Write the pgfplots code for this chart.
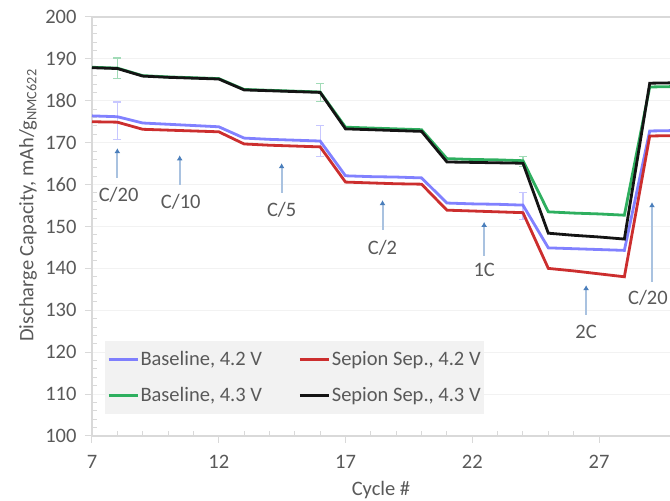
\documentclass[border=0pt]{standalone}
\usepackage{pgfplots}
\pgfplotsset{compat=1.18}
\usepackage{fontspec}
\setmainfont{Carlito}
\usetikzlibrary{arrows.meta}
\definecolor{txt}{HTML}{595959}
\definecolor{axgray}{HTML}{D9D9D9}
\definecolor{gridc}{HTML}{F2F2F2}
\definecolor{legfill}{HTML}{F2F2F2}
\definecolor{cblue}{HTML}{7373FF}
\definecolor{cred}{HTML}{CC2E2E}
\definecolor{cgreen}{HTML}{2EAF5F}
\definecolor{cblack}{HTML}{141414}
\definecolor{arrowc}{HTML}{A9C2E0}
\definecolor{arrowh}{HTML}{4A7EBB}
\newcommand{\fs}{\fontsize{20.5}{24}\selectfont}
\begin{document}
\begin{tikzpicture}
\begin{axis}[name=ax, at={(0,0)}, anchor=south west,
  scale only axis, width=578pt, height=419pt,
  xmin=7, xmax=29.8, ymin=100, ymax=200,
  xtick={7,12,17,22,27}, ytick={100,110,...,200},
  minor x tick num=4, minor y tick num=4,
  axis lines=left,
  axis line style={draw=axgray, line width=1.5pt, -},
  tick align=outside,
  major tick length=7pt, minor tick length=5pt,
  every tick/.style={draw=axgray, line width=1pt},
  minor x tick style={yshift=5pt},
  minor y tick style={xshift=5pt},
  ymajorgrids, major grid style={draw=gridc, line width=0.8pt},
  tick label style={font=\fs, text=txt},
  xticklabel style={yshift=-9pt},
  yticklabel style={xshift=-5pt},
  /pgf/number format/assume math mode=true,
  xlabel={Cycle \#},
  xlabel style={font=\fs, text=txt, at={(rel axis cs:0.5,0)}, anchor=center, yshift=-54pt},
  ylabel={Discharge Capacity, mAh/g\textsubscript{NMC622}},
  ylabel style={font=\fs, text=txt, at={([xshift=-64pt]rel axis cs:0,0.55)}, anchor=center},
  legend columns=2,
  legend cell align=left,
  legend style={at={(rel axis cs:0.0225,0.2267)}, anchor=north west,
    fill=legfill, draw=none, font=\fs, text=txt,
    inner xsep=2pt, inner ysep=9pt, row sep=17pt,
    nodes={inner sep=1.5pt},
    /tikz/every even column/.append style={column sep=35pt}},
  legend image code/.code={\draw[#1] (0pt,0pt) -- (29pt,0pt);},
  clip mode=individual,
]
% arrows and labels
\draw[arrowc, line width=2pt, -{Latex[length=5pt,width=6pt,color=arrowh]}] (axis cs:8,161.6) -- (axis cs:8,168.7);
\node[font=\fs, text=txt] at (axis cs:8.05,157.5) {C/20};
\draw[arrowc, line width=2pt, -{Latex[length=5pt,width=6pt,color=arrowh]}] (axis cs:10.46,160) -- (axis cs:10.46,167);
\node[font=\fs, text=txt] at (axis cs:10.5,155.8) {C/10};
\draw[arrowc, line width=2pt, -{Latex[length=5pt,width=6pt,color=arrowh]}] (axis cs:14.48,158) -- (axis cs:14.48,165.1);
\node[font=\fs, text=txt] at (axis cs:14.48,153.9) {C/5};
\draw[arrowc, line width=2pt, -{Latex[length=5pt,width=6pt,color=arrowh]}] (axis cs:18.46,149.2) -- (axis cs:18.46,156.3);
\node[font=\fs, text=txt] at (axis cs:18.46,144.9) {C/2};
\draw[arrowc, line width=2pt, -{Latex[length=5pt,width=6pt,color=arrowh]}] (axis cs:22.47,143) -- (axis cs:22.47,151.1);
\node[font=\fs, text=txt] at (axis cs:22.47,139.6) {1C};
\draw[arrowc, line width=2pt, -{Latex[length=5pt,width=6pt,color=arrowh]}] (axis cs:26.49,128.9) -- (axis cs:26.49,136);
\node[font=\fs, text=txt] at (axis cs:26.49,124.8) {2C};
\draw[arrowc, line width=2pt, -{Latex[length=5pt,width=6pt,color=arrowh]}] (axis cs:29.09,136.8) -- (axis cs:29.09,155.8);
\node[font=\fs, text=txt, anchor=east, inner xsep=1pt] at (axis cs:29.76,132.9) {C/20};

% error bars
\addplot[forget plot, draw=none, mark=none, error bars/.cd, y dir=both, y explicit,
  error bar style={draw=cblue!40, line width=1.2pt},
  error mark options={rotate=90, draw=cblue!40, line width=1.2pt, mark size=4pt}]
  coordinates {(8,175.2) +- (0,4.5) (16,170.4) +- (0,3.7) (24,154.9) +- (0,3.3)};
\addplot[forget plot, draw=none, mark=none, error bars/.cd, y dir=both, y explicit,
  error bar style={draw=cgreen!45, line width=1.2pt},
  error mark options={rotate=90, draw=cgreen!45, line width=1.2pt, mark size=4pt}]
  coordinates {(8,187.8) +- (0,2.4) (16,182.0) +- (0,2.2) (24,165.5) +- (0,1.2)};

% data
\addplot[cblue, line width=2.8pt, opacity=0.9] coordinates {
(7,176.4) (8,176.2) (9,174.7) (10,174.4) (11,174.1) (12,173.8) (13,171.1) (14,170.8) (15,170.6) (16,170.4)
(17,162.1) (18,161.9) (19,161.8) (20,161.6) (21,155.6) (22,155.4) (23,155.3) (24,155.1)
(25,144.9) (26,144.7) (27,144.5) (28,144.3) (29,172.8) (30,172.9)};
\addlegendentry{Baseline, 4.2 V}
\addplot[cred, line width=2.8pt] coordinates {
(7,175.0) (8,174.9) (9,173.2) (10,173.0) (11,172.8) (12,172.6) (13,169.7) (14,169.4) (15,169.2) (16,169.0)
(17,160.6) (18,160.4) (19,160.2) (20,160.1) (21,153.9) (22,153.7) (23,153.5) (24,153.3)
(25,140.0) (26,139.4) (27,138.7) (28,138.0) (29,171.6) (30,171.7)};
\addlegendentry{Sepion Sep., 4.2 V}
\addplot[cgreen, line width=2.8pt] coordinates {
(7,188.0) (8,187.8) (9,186.0) (10,185.7) (11,185.5) (12,185.3) (13,182.7) (14,182.5) (15,182.3) (16,182.1)
(17,173.7) (18,173.5) (19,173.3) (20,173.1) (21,166.2) (22,166.0) (23,165.9) (24,165.7)
(25,153.5) (26,153.2) (27,153.0) (28,152.7) (29,183.3) (30,183.4)};
\addlegendentry{Baseline, 4.3 V}
\addplot[cblack, line width=2.8pt] coordinates {
(7,187.9) (8,187.7) (9,185.9) (10,185.6) (11,185.4) (12,185.2) (13,182.6) (14,182.4) (15,182.2) (16,182.0)
(17,173.3) (18,173.1) (19,172.9) (20,172.7) (21,165.4) (22,165.3) (23,165.2) (24,165.1)
(25,148.4) (26,147.9) (27,147.5) (28,147.0) (29,184.2) (30,184.3)};
\addlegendentry{Sepion Sep., 4.3 V}
\end{axis}
\draw[axgray, line width=1.5pt] (ax.north west) -- (ax.north east);
\pgfresetboundingbox
\path[use as bounding box] ([shift={(-92pt,-65pt)}]ax.south west) rectangle ([shift={(0pt,17pt)}]ax.north east);
\end{tikzpicture}
\end{document}
